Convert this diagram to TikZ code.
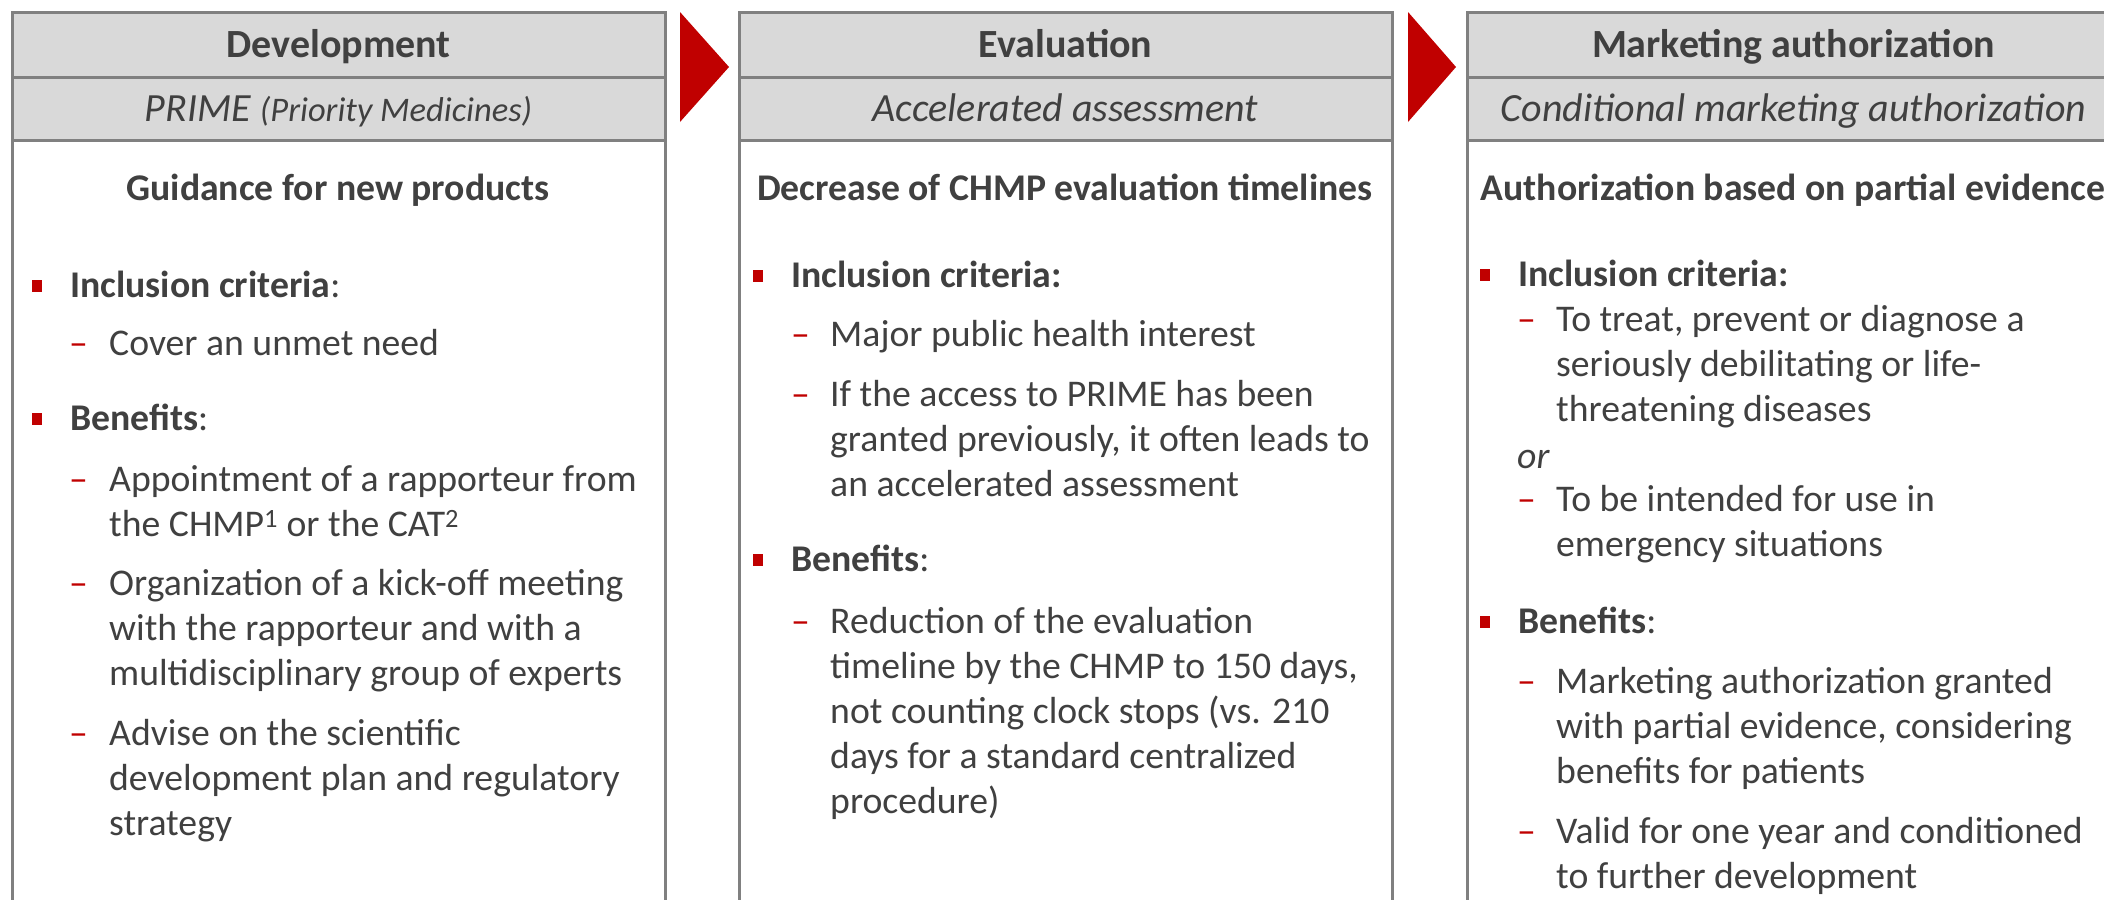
\documentclass[tikz,border=0pt]{standalone}
\usepackage{fontspec}
\setmainfont{Carlito}
\usepackage{xcolor}
\usepackage{tikz}
\usetikzlibrary{calc,positioning}
\definecolor{PhaseInk}{HTML}{404040}
\definecolor{PhaseRed}{HTML}{C00000}
\definecolor{PhaseGrey}{HTML}{808080}
\definecolor{PhaseFill}{HTML}{D9D9D9}
\tikzset{
  headbox/.style={draw=PhaseGrey,fill=PhaseFill,line width=3bp,outer sep=0pt,
    minimum width=653bp,minimum height=65bp,inner sep=0pt,text=PhaseInk,
    text height=26bp,text depth=0bp,
    font=\fontsize{40bp}{48bp}\selectfont\bfseries},
  subbox/.style={headbox,minimum height=63bp,
    font=\fontsize{40bp}{48bp}\selectfont\itshape},
  bodybox/.style={draw=PhaseGrey,fill=white,line width=3bp,outer sep=0pt,
    minimum width=653bp,minimum height=820bp,inner sep=0pt},
  leadtext/.style={anchor=base,inner sep=0pt,text=PhaseInk,
    font=\fontsize{37.7bp}{45bp}\selectfont\bfseries},
  itemtext/.style={anchor=base west,inner sep=0pt,align=left,text=PhaseInk,
    font=\fontsize{37.7bp}{45bp}\selectfont},
  reddash/.style={anchor=base west,inner sep=0pt,text=PhaseRed,
    font=\fontsize{37.7bp}{45bp}\selectfont},
  sqbullet/.style={fill=PhaseRed,inner sep=0pt,minimum width=10bp,minimum height=12bp},
  chevron/.style={fill=PhaseRed}
}

\begin{document}
\begin{tikzpicture}[x=1bp,y=-1bp]
    \useasboundingbox (0,0) rectangle (2104,900);
    \clip (0,0) rectangle (2104,900);

    % the three phases
    \node[headbox,anchor=north west] (devhead) at (12,12) {Development};
    \node[subbox,below=0pt of devhead] (devsub) {PRIME {\fontsize{34.5bp}{40bp}\selectfont (Priority Medicines)}};
    \node[bodybox,below=0pt of devsub] (devbody) {};

    \node[headbox,right=74bp of devhead] (evalhead) {Evaluation};
    \node[subbox,below=0pt of evalhead] (evalsub) {Accelerated assessment};
    \node[bodybox,below=0pt of evalsub] (evalbody) {};

    \node[headbox,right=75bp of evalhead] (mahead) {Marketing authorization};
    \node[subbox,below=0pt of mahead] (masub) {Conditional marketing authorization};
    \node[bodybox,below=0pt of masub] (mabody) {};

    \fill[chevron] (680,12) -- (729,67) -- (680,122) -- cycle;
    \fill[chevron] (1408,12) -- (1456,67) -- (1408,122) -- cycle;

    % development (multi-line texts sit on their last baseline)
    \node[leadtext] (devlead) at (338,200) {Guidance for new products};
    \node[sqbullet] (devsq1) at (37,286) {};
    \node[itemtext] (devinc) at (70,297) {\textbf{Inclusion criteria}:};
    \node[reddash] (devd1) at (69,355) {–};
    \node[itemtext] (devi1) at (109,355) {Cover an unmet need};
    \node[sqbullet] (devsq2) at (37,419) {};
    \node[itemtext] (devben) at (70,430) {\textbf{Benefits}:};
    \node[reddash] (devd2) at (69,491) {–};
    \node[itemtext] (devi2) at (109,536) {Appointment of a rapporteur from\\the CHMP\textsuperscript{1} or the CAT\textsuperscript{2}};
    \node[reddash] (devd3) at (69,595) {–};
    \node[itemtext] (devi3) at (109,685) {Organization of a kick-off meeting\\with the rapporteur and with a\\multidisciplinary group of experts};
    \node[reddash] (devd4) at (69,745) {–};
    \node[itemtext] (devi4) at (109,835) {Advise on the scientific\\development plan and regulatory\\strategy};

    % evaluation
    \node[leadtext] (evallead) at (1065,200) {Decrease of CHMP evaluation timelines};
    \node[sqbullet] (evalsq1) at (758,276) {};
    \node[itemtext] (evalinc) at (791,287) {\textbf{Inclusion criteria:}};
    \node[reddash] (evald1) at (791,346) {–};
    \node[itemtext] (evali1) at (830,346) {Major public health interest};
    \node[reddash] (evald2) at (791,406) {–};
    \node[itemtext] (evali2) at (830,496) {If the access to PRIME has been\\granted previously, it often leads to\\an accelerated assessment};
    \node[sqbullet] (evalsq2) at (758,560) {};
    \node[itemtext] (evalben) at (791,571) {\textbf{Benefits}:};
    \node[reddash] (evald3) at (791,633) {–};
    \node[itemtext] (evali3) at (830,813) {Reduction of the evaluation\\timeline by the CHMP to 150 days,\\not counting clock stops (vs. 210\\days for a standard centralized\\procedure)};

    % marketing authorization
    \node[leadtext] (malead) at (1793,200) {Authorization based on partial evidence};
    \node[sqbullet] (masq1) at (1485,275) {};
    \node[itemtext] (mainc) at (1518,286) {\textbf{Inclusion criteria:}};
    \node[reddash] (mad1) at (1517,331) {–};
    \node[itemtext] (mai1) at (1556,421) {To treat, prevent or diagnose a\\seriously debilitating or life-\\threatening diseases};
    \node[itemtext] (maor) at (1517,468) {\textit{or}};
    \node[reddash] (mad2) at (1517,511) {–};
    \node[itemtext] (mai2) at (1556,556) {To be intended for use in\\emergency situations};
    \node[sqbullet] (masq2) at (1485,622) {};
    \node[itemtext] (maben) at (1518,633) {\textbf{Benefits}:};
    \node[reddash] (mad3) at (1517,693) {–};
    \node[itemtext] (mai3) at (1556,783) {Marketing authorization granted\\with partial evidence, considering\\benefits for patients};
    \node[reddash] (mad4) at (1517,843) {–};
    \node[itemtext] (mai4) at (1556,888) {Valid for one year and conditioned\\to further development};
\end{tikzpicture}
\end{document}
